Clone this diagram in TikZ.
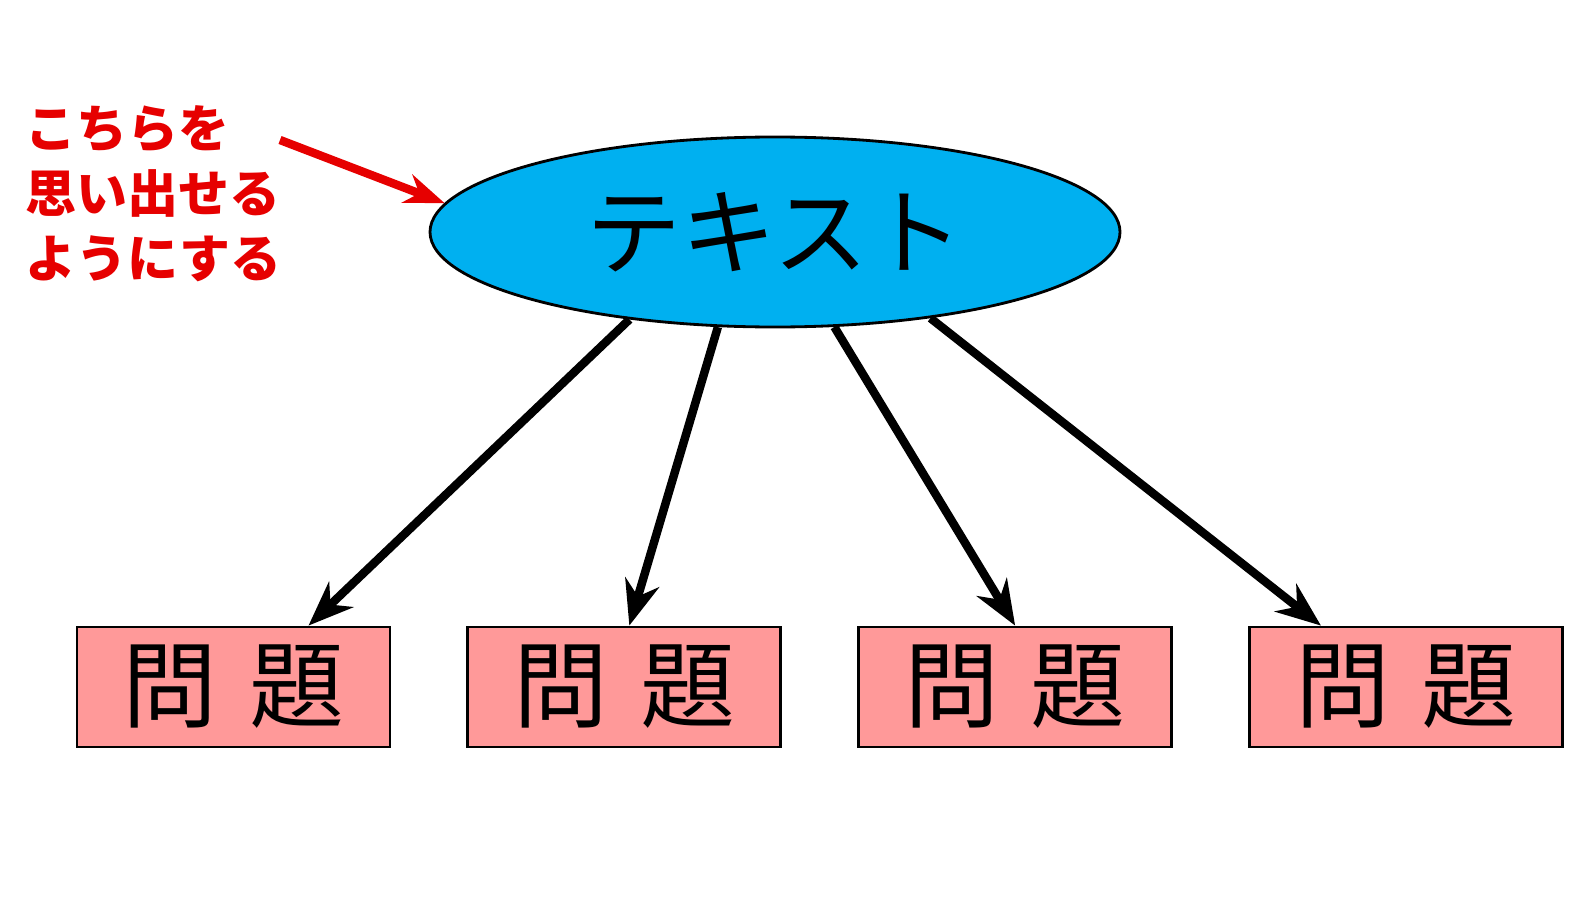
\documentclass[tikz,border=0pt]{standalone}
\usepackage{fontspec}
\newfontfamily\cjk{Noto Sans CJK JP}
\usetikzlibrary{arrows.meta,shapes.geometric,positioning}
\definecolor{Sky}{RGB}{0,176,240}
\definecolor{Rose}{RGB}{255,153,153}
\definecolor{Note}{RGB}{230,0,0}
\begin{document}
\begin{tikzpicture}[
  textnode/.style={ellipse,draw=black,line width=0.8pt,fill=Sky,minimum width=6.9cm,minimum height=1.9cm,font=\cjk\fontsize{27}{30}\selectfont},
  probbox/.style={rectangle,draw=black,line width=0.8pt,fill=Rose,minimum width=3.13cm,minimum height=1.2cm,font=\cjk\fontsize{27}{30}\selectfont},
  link/.style={-{Stealth[length=4.5mm,width=3.5mm]},line width=2.4pt}]
\useasboundingbox (0,0) rectangle (15.8,9);

\node[textnode] (t) at (7.75,6.68) {テキスト};

\node[probbox] (b1) at (2.335,2.13) {問\,\,題};
\node[probbox,right=0.75cm of b1] (b2) {問\,\,題};
\node[probbox,right=0.75cm of b2] (b3) {問\,\,題};
\node[probbox,right=0.75cm of b3] (b4) {問\,\,題};

\draw[link] (t.-149) -- ([xshift=0.75cm]b1.north);
\draw[link] (t.-121) -- ([xshift=0.05cm]b2.north);
\draw[link] (t.-58) -- ([xshift=0.0cm]b3.north);
\draw[link] (t.-29) -- ([xshift=-0.85cm]b4.north);

\node[anchor=north west,align=left,text=Note,font=\cjk\bfseries\fontsize{14.5}{18.5}\selectfont,inner sep=0pt] (note) at (0.25,7.95) {こちらを\\思い出せる\\ようにする};
\coordinate (tail) at (2.8,7.6);
\draw[-{Stealth[length=4mm,width=3mm]},line width=2.4pt,Note] (tail) -- (t.175);
\end{tikzpicture}
\end{document}
